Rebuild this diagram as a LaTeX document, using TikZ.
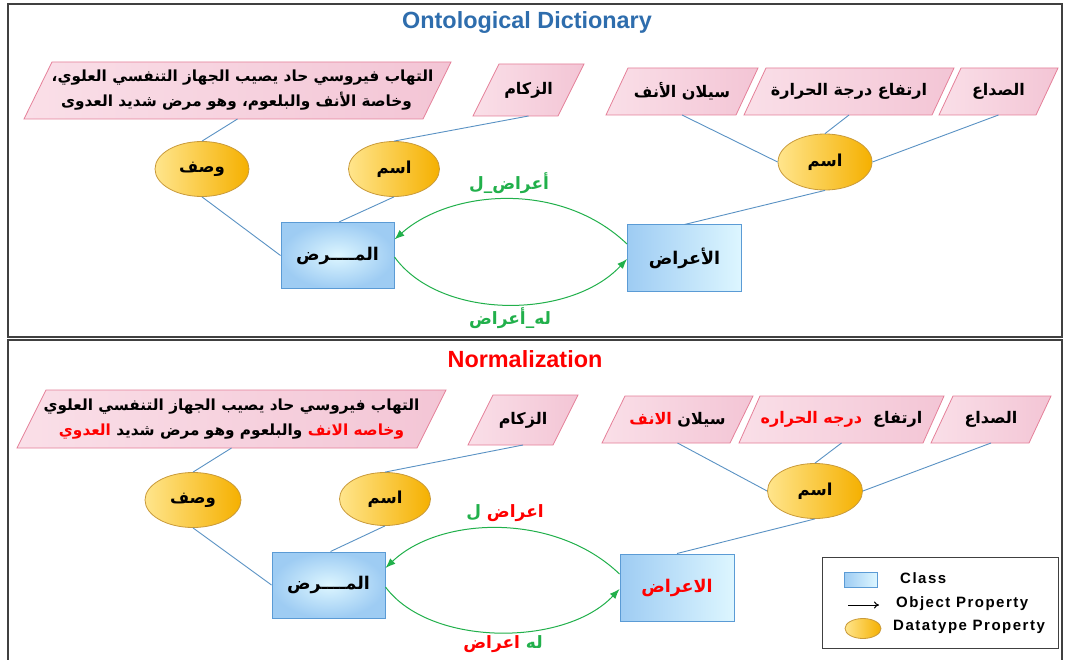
\documentclass[tikz,border=0pt]{standalone}
\usepackage{fontspec}
\setmainfont{Liberation Sans}
\newfontfamily\arabicfont[Script=Arabic]{DejaVu Sans}
\newfontfamily\legfont[LetterSpace=10]{Liberation Sans}
\usetikzlibrary{shapes.geometric,arrows.meta}
\TeXXeTstate=1
\definecolor{pinkA}{HTML}{FADFE8}
\definecolor{pinkB}{HTML}{F3C5D5}
\definecolor{pinkD}{HTML}{E58099}
\definecolor{lineblue}{HTML}{5A92C4}
\definecolor{boxD}{HTML}{5B9BD5}
\definecolor{boxA}{HTML}{9ECCF3}
\definecolor{boxB}{HTML}{DDF6FF}
\definecolor{ellA}{HTML}{FFE58C}
\definecolor{ellB}{HTML}{F5B000}
\definecolor{ellD}{HTML}{C99A3A}
\definecolor{grn}{HTML}{21B04B}
\definecolor{titleblue}{HTML}{2E6DAD}
\definecolor{frameD}{HTML}{404040}
\newcommand\mypara[8]{%
  \path[parafill] (#2,#6) -- (#3,#6) -- ({#3+#4},#5) -- ({#2+#4},#5) -- cycle;
  \node[artxt, #8] (#1) at ({(#2+#3+#4)/2},{(#5+#6)/2}) {#7};
  \coordinate (#1B) at ({(#2+#3+#4)/2},#6);
}
\newcommand\RL[1]{\beginR #1\endR}
\begin{document}
\begin{tikzpicture}[x=1pt,y=-1pt,
  parafill/.style={left color=pinkA, right color=pinkB, draw=pinkD, line width=0.8pt},
  artxt/.style={font=\arabicfont\bfseries\fontsize{16}{24}\selectfont, inner sep=0pt, align=center},
  desctxt/.style={font=\arabicfont\bfseries\fontsize{15.3}{25}\selectfont},
  dtp/.style={ellipse, draw=ellD, line width=0.8pt, left color=ellA, right color=ellB,
    minimum width=94pt, minimum height=55pt, inner sep=0pt,
    font=\arabicfont\bfseries\fontsize{16.5}{18}\selectfont},
  clsR/.style={rectangle, draw=boxD, line width=1pt, inner color=boxB, outer color=boxA,
    minimum width=113pt, minimum height=66pt, inner sep=0pt,
    font=\arabicfont\bfseries\fontsize{17.5}{18}\selectfont},
  clsA/.style={rectangle, draw=boxD, line width=1pt, left color=boxA, right color=boxB,
    minimum width=114pt, minimum height=66pt, inner sep=0pt,
    font=\arabicfont\bfseries\fontsize{17.5}{18}\selectfont},
  conn/.style={draw=lineblue, line width=0.9pt},
  objp/.style={draw=grn, line width=1pt, -{Latex[length=10pt,width=7.5pt]}},
  lbl/.style={font=\arabicfont\bfseries\fontsize{17}{18}\selectfont, inner sep=0pt},
  title/.style={font=\bfseries\fontsize{23.4}{26}\selectfont, inner sep=0pt},
  legtxt/.style={font=\legfont\bfseries\fontsize{15}{16}\selectfont, anchor=west, inner sep=0pt},
  panel/.style={draw=frameD, line width=1.3pt}
]
\useasboundingbox (0,0) rectangle (1065,660);
\fill[white] (0,0) rectangle (1065,660);
% panels
\draw[panel] (8,4) rectangle (1062,337);
\draw[panel] (8,340) rectangle (1062,672);

% ================= TOP PANEL =================
\node[title, text=titleblue] (t1) at (527,23) {Ontological Dictionary};

\mypara{descT}{24}{423}{28}{62}{119}{\RL{التهاب فيروسي حاد يصيب الجهاز التنفسي العلوي،}\\\RL{وخاصة الأنف والبلعوم، وهو مرض شديد العدوى}\hspace*{12pt}}{desctxt, xshift=5pt}
\mypara{zukT}{473}{558}{26}{64}{116}{\RL{الزكام}}{}
\mypara{silT}{606}{736}{22}{68}{115}{\RL{سيلان الأنف}}{}
\mypara{irtT}{744}{932}{22}{68}{115}{\RL{ارتفاع  درجة الحرارة}}{}
\mypara{sudT}{939}{1036}{22}{68}{115}{\RL{الصداع}}{}

\node[dtp] (wasfT) at (202,169) {\RL{وصف}};
\node[dtp, minimum width=91pt] (ismLT) at (394,169) {\RL{اسم}};
\node[dtp, minimum width=94pt, minimum height=56pt] (ismRT) at (825,162) {\RL{اسم}};

\node[clsR] (maradT) at (337.5,255.5) {\RL{المــــرض}};
\node[clsA] (aradT) at (684.5,258) {\RL{الأعراض}};

\draw[conn] (wasfT.north) -- (descTB);
\draw[conn] (wasfT.south) -- (maradT.west);
\draw[conn] (ismLT.north) -- (zukTB);
\draw[conn] (ismLT.south) -- ([xshift=1.5pt]maradT.north);
\draw[conn] (ismRT.west) -- (silTB);
\draw[conn] (ismRT.north) -- (irtTB);
\draw[conn] (ismRT.east) -- (sudTB);
\draw[conn] (ismRT.south) -- (aradT.north);

\draw[objp] ([yshift=14pt]aradT.west) .. controls (560,180) and (450,190) .. ([yshift=16pt]maradT.east);
\draw[objp] ([yshift=-1.5pt]maradT.east) .. controls (440,320) and (570,320) .. ([yshift=-1pt]aradT.west);
\node[lbl, text=grn] (lbT1) at (509,183) {\RL{أعراض\_ل}};
\node[lbl, text=grn] (lbT2) at (510,318) {\RL{له\_أعراض}};

% ================= BOTTOM PANEL =================
\node[title, text=red] (t2) at (525,359) {Normalization};

\mypara{descB}{17}{417}{29}{390}{448}{\RL{التهاب فيروسي حاد يصيب الجهاز التنفسي العلوي}\\{\color{red}\RL{العدوي}} \RL{والبلعوم  وهو مرض شديد} {\color{red}\RL{وخاصه الانف}}}{desctxt}
\mypara{zukB}{468}{553}{25}{395}{445}{\RL{الزكام}}{}
\mypara{silB}{602}{730}{23}{396}{443}{{\color{red}\RL{الانف}} \RL{سيلان}}{}
\mypara{irtB}{739}{923}{21}{396}{443}{{\color{red}\RL{درجه الحراره}}\ \ \RL{ارتفاع}}{}
\mypara{sudB}{931}{1029}{22}{396}{443}{\RL{الصداع}}{}

\node[dtp, minimum width=96pt] (wasfB) at (193,500) {\RL{وصف}};
\node[dtp, minimum width=91pt, minimum height=53pt] (ismLB) at (385,499) {\RL{اسم}};
\node[dtp, minimum width=95pt] (ismRB) at (815,491) {\RL{اسم}};

\node[clsR] (maradB) at (328.5,585) {\RL{المــــرض}};
\node[clsA, minimum height=67pt, text=red] (aradB) at (677,587.5) {\RL{الاعراض}};

\draw[conn] (wasfB.north) -- (descBB);
\draw[conn] (wasfB.south) -- (maradB.west);
\draw[conn] (ismLB.north) -- (zukBB);
\draw[conn] (ismLB.south) -- ([xshift=2pt]maradB.north);
\draw[conn] (ismRB.west) -- (silBB);
\draw[conn] (ismRB.north) -- (irtBB);
\draw[conn] (ismRB.east) -- (sudBB);
\draw[conn] (ismRB.south) -- (aradB.north);

\draw[objp] ([yshift=13.5pt]aradB.west) .. controls (555,512) and (440,516) .. ([yshift=17pt]maradB.east);
\draw[objp] ([yshift=-2pt]maradB.east) .. controls (430,647) and (565,647) .. ([yshift=-1.5pt]aradB.west);
\node[lbl] (lbB1) at (505,513) {{\color{grn}\RL{ل}} {\color{red}\RL{اعراض}}};
\node[lbl] (lbB2) at (503,644) {{\color{red}\RL{اعراض}} {\color{grn}\RL{له}}};

% legend
\node[draw=frameD, line width=1pt, minimum width=236pt, minimum height=91pt, inner sep=0pt] (leg) at (940,602.5) {};
\node[rectangle, draw=boxD, line width=0.8pt, left color=boxA, right color=boxB, minimum width=33pt, minimum height=15pt, inner sep=0pt] (legC) at (860.5,579.5) {};
\coordinate (legAs) at (848,605);
\coordinate (legAe) at (879,605);
\draw[-{To[length=5pt,width=7pt]}, line width=1pt] (legAs) -- (legAe);
\node[ellipse, draw=ellD, line width=0.8pt, left color=ellA, right color=ellB, minimum width=36pt, minimum height=20pt, inner sep=0pt] (legE) at (863,628.5) {};
\node[legtxt] (legT1) at (900,578) {Class};
\node[legtxt] (legT2) at (896,604) {Object Property};
\node[legtxt] (legT3) at (893,627) {Datatype Property};
\end{tikzpicture}
\end{document}
